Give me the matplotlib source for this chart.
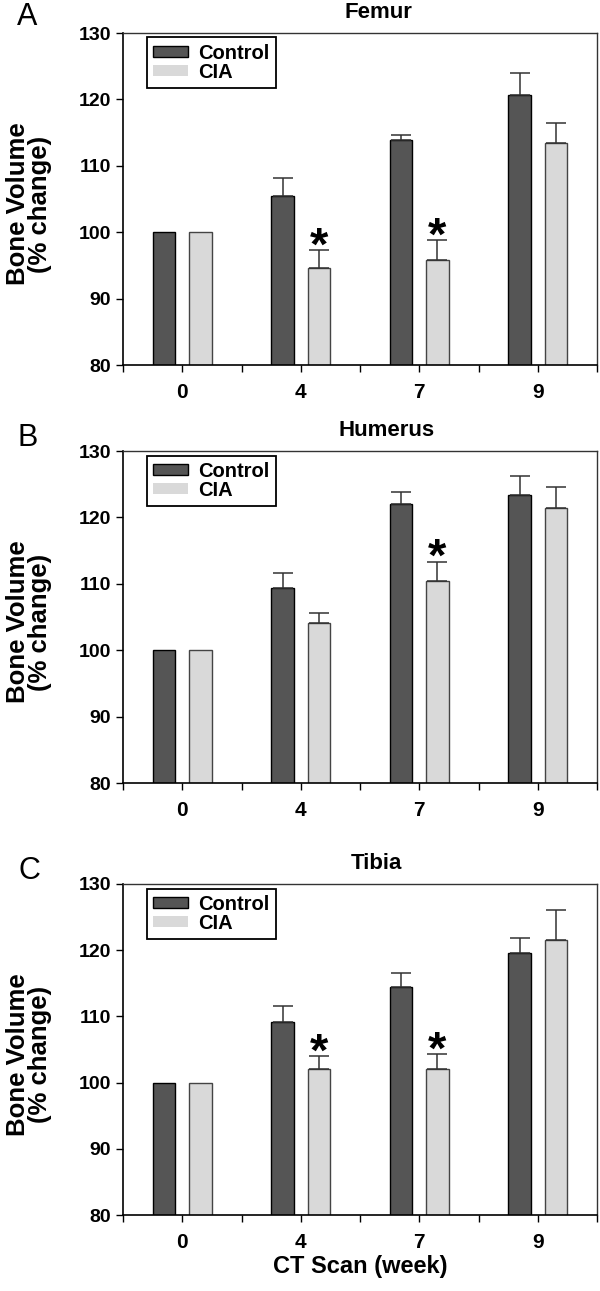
import numpy as np
import matplotlib
matplotlib.use('Agg')
import matplotlib.pyplot as plt
from matplotlib.patches import Patch

plt.rcParams['font.family'] = ['Liberation Sans', 'DejaVu Sans']

# 数据
weeks = ['0', '4', '7', '9']
panels = ['A', 'B', 'C']
titles = ['Femur', 'Humerus', 'Tibia']

femur_ctrl = [100, 105.4, 113.9, 120.7]
femur_ctrl_err = [0, 2.7, 0.7, 3.3]
femur_cia = [100, 94.6, 95.8, 113.5]
femur_cia_err = [0, 2.7, 3.0, 3.0]
femur_sig = [1, 2]

humerus_ctrl = [100, 109.4, 122.0, 123.4]
humerus_ctrl_err = [0, 2.3, 1.9, 2.8]
humerus_cia = [100, 104.1, 110.4, 121.4]
humerus_cia_err = [0, 1.5, 2.9, 3.2]
humerus_sig = [2]

tibia_ctrl = [100, 109.2, 114.4, 119.6]
tibia_ctrl_err = [0, 2.4, 2.1, 2.3]
tibia_cia = [100, 102.0, 102.1, 121.5]
tibia_cia_err = [0, 2.0, 2.2, 4.5]
tibia_sig = [1, 2]

data = [
    (femur_ctrl, femur_ctrl_err, femur_cia, femur_cia_err, femur_sig),
    (humerus_ctrl, humerus_ctrl_err, humerus_cia, humerus_cia_err, humerus_sig),
    (tibia_ctrl, tibia_ctrl_err, tibia_cia, tibia_cia_err, tibia_sig),
]

W, H = 600, 1291
fig = plt.figure(figsize=(W / 100, H / 100), dpi=100)

# 轴的像素位置 (top, bottom)
ax_px = [(33, 365), (451, 783), (884, 1215)]
ax_left, ax_right = 123, 597
title_x = [0.538, 0.557, 0.534]
letter_pos = [(27, 17), (28, 438), (29, 871)]

c_dark = '#555555'
c_light = '#d9d9d9'
x = np.arange(len(weeks))
off = 0.154
bw = 0.194

for i in range(3):
    ctrl, ctrl_err, cia, cia_err, sig = data[i]
    top, bot = ax_px[i]
    ax = fig.add_axes([ax_left / W, (H - bot) / H, (ax_right - ax_left) / W, (bot - top) / H])

    ax.bar(x - off, ctrl, bw, color=c_dark, edgecolor='black', linewidth=1, zorder=2)
    ax.bar(x + off, cia, bw, color=c_light, edgecolor='#444444', linewidth=1, zorder=2)

    for xs, vals, errs in [(x - off, ctrl, ctrl_err), (x + off, cia, cia_err)]:
        vals = np.array(vals)
        errs = np.array(errs)
        m = errs > 0
        ax.errorbar(xs[m], vals[m], yerr=[np.zeros(m.sum()), errs[m]], fmt='none',
                    ecolor='#333333', elinewidth=1.1, capsize=7.5, capthick=1.1, zorder=3)

    for j in sig:
        ax.annotate('*', xy=(x[j] + off, cia[j] + cia_err[j]), xytext=(0, 2),
                    textcoords='offset points', ha='center', va='center',
                    fontsize=34, fontweight='bold', zorder=4)

    ax.set_xlim(-0.5, 3.5)
    ax.set_ylim(80, 130)
    ax.set_yticks([80, 90, 100, 110, 120, 130])
    ax.set_xticks(x)
    ax.set_xticklabels(weeks)
    ax.set_xticks(np.arange(-0.5, 4, 1), minor=True)
    ax.tick_params(axis='x', which='both', direction='out', length=5, width=1)
    ax.tick_params(axis='x', which='major', labelsize=15, pad=8)
    ax.tick_params(axis='y', direction='out', length=5, width=1, labelsize=14, pad=3.5)
    for lab in ax.get_xticklabels() + ax.get_yticklabels():
        lab.set_fontweight('bold')

    for s in ['top', 'right']:
        ax.spines[s].set_color('#333333')
        ax.spines[s].set_linewidth(1)
    for s in ['left', 'bottom']:
        ax.spines[s].set_linewidth(1.2)

    ax.set_title(titles[i], x=title_x[i], fontsize=16, fontweight='bold', pad=11)

    # y 轴标签
    yc = (top + bot) / 2 + 5
    fig.text(29 / W, 1 - yc / H, 'Bone Volume\n(% change)', rotation=90,
             ha='center', va='center', multialignment='center',
             fontsize=18.5, fontweight='bold', linespacing=0.92)

    handles = [Patch(facecolor=c_dark, edgecolor='black', linewidth=1),
               Patch(facecolor=c_light, edgecolor='none')]
    leg = ax.legend(handles, ['Control', 'CIA'], loc='upper left',
                    bbox_to_anchor=((147 - ax_left) / (ax_right - ax_left), 1 - 4.5 / (bot - top)),
                    borderaxespad=0,
                    prop={'size': 14.5, 'weight': 'bold'}, fancybox=False,
                    framealpha=1, edgecolor='black', handlelength=1.75,
                    handleheight=0.5, handletextpad=0.5, labelspacing=0.0,
                    borderpad=0.3)
    leg.get_frame().set_linewidth(1.3)

    lx, ly = letter_pos[i]
    fig.text(lx / W, 1 - ly / H, panels[i], fontsize=22, ha='center', va='center')

    if i == 2:
        ax.set_xlabel('CT Scan (week)', fontsize=17, fontweight='bold', labelpad=2)

fig.savefig('out.png', dpi=100)
